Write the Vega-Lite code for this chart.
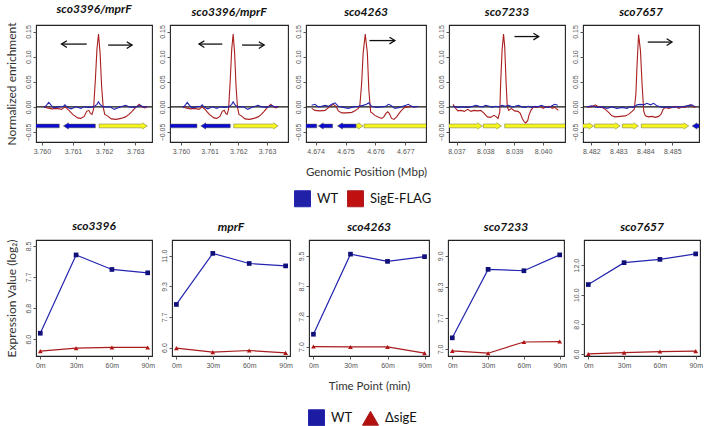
{
  "$schema": "https://vega.github.io/schema/vega-lite/v6.json",
  "padding": {"top": 2, "left": 4, "right": 0, "bottom": 0},
  "background": "white",
  "datasets": {
    "zero": [{"level": 0}],
    "chip": [
      {"locus":"sco3396/mprF","series":"SigE-FLAG","pos":3.76007,"enr":0.000},
      {"locus":"sco3396/mprF","series":"SigE-FLAG","pos":3.76017,"enr":-0.002},
      {"locus":"sco3396/mprF","series":"SigE-FLAG","pos":3.76033,"enr":-0.004},
      {"locus":"sco3396/mprF","series":"SigE-FLAG","pos":3.76048,"enr":-0.003},
      {"locus":"sco3396/mprF","series":"SigE-FLAG","pos":3.76063,"enr":-0.005},
      {"locus":"sco3396/mprF","series":"SigE-FLAG","pos":3.76074,"enr":0.000},
      {"locus":"sco3396/mprF","series":"SigE-FLAG","pos":3.76084,"enr":-0.005},
      {"locus":"sco3396/mprF","series":"SigE-FLAG","pos":3.76099,"enr":-0.015},
      {"locus":"sco3396/mprF","series":"SigE-FLAG","pos":3.76115,"enr":-0.022},
      {"locus":"sco3396/mprF","series":"SigE-FLAG","pos":3.76125,"enr":-0.023},
      {"locus":"sco3396/mprF","series":"SigE-FLAG","pos":3.76136,"enr":-0.019},
      {"locus":"sco3396/mprF","series":"SigE-FLAG","pos":3.76144,"enr":-0.009},
      {"locus":"sco3396/mprF","series":"SigE-FLAG","pos":3.76151,"enr":-0.007},
      {"locus":"sco3396/mprF","series":"SigE-FLAG","pos":3.76156,"enr":-0.013},
      {"locus":"sco3396/mprF","series":"SigE-FLAG","pos":3.76161,"enr":-0.015},
      {"locus":"sco3396/mprF","series":"SigE-FLAG","pos":3.76166,"enr":-0.005},
      {"locus":"sco3396/mprF","series":"SigE-FLAG","pos":3.76172,"enr":0.055},
      {"locus":"sco3396/mprF","series":"SigE-FLAG","pos":3.76177,"enr":0.115},
      {"locus":"sco3396/mprF","series":"SigE-FLAG","pos":3.76182,"enr":0.145},
      {"locus":"sco3396/mprF","series":"SigE-FLAG","pos":3.76187,"enr":0.108},
      {"locus":"sco3396/mprF","series":"SigE-FLAG","pos":3.76192,"enr":0.041},
      {"locus":"sco3396/mprF","series":"SigE-FLAG","pos":3.76197,"enr":0.000},
      {"locus":"sco3396/mprF","series":"SigE-FLAG","pos":3.76202,"enr":-0.015},
      {"locus":"sco3396/mprF","series":"SigE-FLAG","pos":3.76213,"enr":-0.019},
      {"locus":"sco3396/mprF","series":"SigE-FLAG","pos":3.76223,"enr":-0.024},
      {"locus":"sco3396/mprF","series":"SigE-FLAG","pos":3.76239,"enr":-0.025},
      {"locus":"sco3396/mprF","series":"SigE-FLAG","pos":3.76254,"enr":-0.023},
      {"locus":"sco3396/mprF","series":"SigE-FLAG","pos":3.76269,"enr":-0.020},
      {"locus":"sco3396/mprF","series":"SigE-FLAG","pos":3.76280,"enr":-0.015},
      {"locus":"sco3396/mprF","series":"SigE-FLAG","pos":3.76290,"enr":-0.009},
      {"locus":"sco3396/mprF","series":"SigE-FLAG","pos":3.76300,"enr":-0.002},
      {"locus":"sco3396/mprF","series":"SigE-FLAG","pos":3.76313,"enr":0.005},
      {"locus":"sco3396/mprF","series":"SigE-FLAG","pos":3.76321,"enr":0.000},
      {"locus":"sco3396/mprF","series":"SigE-FLAG","pos":3.76331,"enr":-0.002},
      {"locus":"sco3396/mprF","series":"SigE-FLAG","pos":3.76339,"enr":0.000},
      {"locus":"sco3396/mprF","series":"WT","pos":3.76007,"enr":-0.002},
      {"locus":"sco3396/mprF","series":"WT","pos":3.76017,"enr":0.005},
      {"locus":"sco3396/mprF","series":"WT","pos":3.76022,"enr":0.009},
      {"locus":"sco3396/mprF","series":"WT","pos":3.76030,"enr":0.003},
      {"locus":"sco3396/mprF","series":"WT","pos":3.76038,"enr":-0.002},
      {"locus":"sco3396/mprF","series":"WT","pos":3.76053,"enr":0.000},
      {"locus":"sco3396/mprF","series":"WT","pos":3.76069,"enr":0.001},
      {"locus":"sco3396/mprF","series":"WT","pos":3.76074,"enr":0.004},
      {"locus":"sco3396/mprF","series":"WT","pos":3.76082,"enr":-0.001},
      {"locus":"sco3396/mprF","series":"WT","pos":3.76094,"enr":-0.004},
      {"locus":"sco3396/mprF","series":"WT","pos":3.76110,"enr":0.000},
      {"locus":"sco3396/mprF","series":"WT","pos":3.76125,"enr":-0.003},
      {"locus":"sco3396/mprF","series":"WT","pos":3.76136,"enr":0.000},
      {"locus":"sco3396/mprF","series":"WT","pos":3.76151,"enr":-0.001},
      {"locus":"sco3396/mprF","series":"WT","pos":3.76166,"enr":0.000},
      {"locus":"sco3396/mprF","series":"WT","pos":3.76177,"enr":0.005},
      {"locus":"sco3396/mprF","series":"WT","pos":3.76182,"enr":0.010},
      {"locus":"sco3396/mprF","series":"WT","pos":3.76187,"enr":0.005},
      {"locus":"sco3396/mprF","series":"WT","pos":3.76197,"enr":0.000},
      {"locus":"sco3396/mprF","series":"WT","pos":3.76218,"enr":0.000},
      {"locus":"sco3396/mprF","series":"WT","pos":3.76233,"enr":-0.005},
      {"locus":"sco3396/mprF","series":"WT","pos":3.76244,"enr":-0.002},
      {"locus":"sco3396/mprF","series":"WT","pos":3.76259,"enr":0.001},
      {"locus":"sco3396/mprF","series":"WT","pos":3.76269,"enr":0.003},
      {"locus":"sco3396/mprF","series":"WT","pos":3.76280,"enr":0.000},
      {"locus":"sco3396/mprF","series":"WT","pos":3.76300,"enr":-0.001},
      {"locus":"sco3396/mprF","series":"WT","pos":3.76316,"enr":0.003},
      {"locus":"sco3396/mprF","series":"WT","pos":3.76326,"enr":0.000},
      {"locus":"sco3396/mprF","series":"WT","pos":3.76339,"enr":0.000},
      {"locus":"sco4263","series":"SigE-FLAG","pos":4.67387,"enr":-0.003},
      {"locus":"sco4263","series":"SigE-FLAG","pos":4.67398,"enr":-0.007},
      {"locus":"sco4263","series":"SigE-FLAG","pos":4.67415,"enr":-0.008},
      {"locus":"sco4263","series":"SigE-FLAG","pos":4.67432,"enr":-0.007},
      {"locus":"sco4263","series":"SigE-FLAG","pos":4.67448,"enr":0.001},
      {"locus":"sco4263","series":"SigE-FLAG","pos":4.67459,"enr":0.005},
      {"locus":"sco4263","series":"SigE-FLAG","pos":4.67468,"enr":0.001},
      {"locus":"sco4263","series":"SigE-FLAG","pos":4.67476,"enr":-0.008},
      {"locus":"sco4263","series":"SigE-FLAG","pos":4.67487,"enr":-0.012},
      {"locus":"sco4263","series":"SigE-FLAG","pos":4.67504,"enr":-0.012},
      {"locus":"sco4263","series":"SigE-FLAG","pos":4.67521,"enr":-0.011},
      {"locus":"sco4263","series":"SigE-FLAG","pos":4.67532,"enr":-0.008},
      {"locus":"sco4263","series":"SigE-FLAG","pos":4.67543,"enr":-0.003},
      {"locus":"sco4263","series":"SigE-FLAG","pos":4.67548,"enr":0.003},
      {"locus":"sco4263","series":"SigE-FLAG","pos":4.67554,"enr":0.047},
      {"locus":"sco4263","series":"SigE-FLAG","pos":4.67559,"enr":0.107},
      {"locus":"sco4263","series":"SigE-FLAG","pos":4.67566,"enr":0.145},
      {"locus":"sco4263","series":"SigE-FLAG","pos":4.67573,"enr":0.107},
      {"locus":"sco4263","series":"SigE-FLAG","pos":4.67578,"enr":0.033},
      {"locus":"sco4263","series":"SigE-FLAG","pos":4.67584,"enr":-0.010},
      {"locus":"sco4263","series":"SigE-FLAG","pos":4.67591,"enr":-0.013},
      {"locus":"sco4263","series":"SigE-FLAG","pos":4.67598,"enr":-0.017},
      {"locus":"sco4263","series":"SigE-FLAG","pos":4.67609,"enr":-0.020},
      {"locus":"sco4263","series":"SigE-FLAG","pos":4.67621,"enr":-0.023},
      {"locus":"sco4263","series":"SigE-FLAG","pos":4.67628,"enr":-0.020},
      {"locus":"sco4263","series":"SigE-FLAG","pos":4.67635,"enr":-0.013},
      {"locus":"sco4263","series":"SigE-FLAG","pos":4.67641,"enr":-0.010},
      {"locus":"sco4263","series":"SigE-FLAG","pos":4.67646,"enr":-0.013},
      {"locus":"sco4263","series":"SigE-FLAG","pos":4.67654,"enr":-0.023},
      {"locus":"sco4263","series":"SigE-FLAG","pos":4.67662,"enr":-0.025},
      {"locus":"sco4263","series":"SigE-FLAG","pos":4.67671,"enr":-0.020},
      {"locus":"sco4263","series":"SigE-FLAG","pos":4.67679,"enr":-0.013},
      {"locus":"sco4263","series":"SigE-FLAG","pos":4.67687,"enr":-0.007},
      {"locus":"sco4263","series":"SigE-FLAG","pos":4.67698,"enr":-0.001},
      {"locus":"sco4263","series":"SigE-FLAG","pos":4.67709,"enr":0.000},
      {"locus":"sco4263","series":"SigE-FLAG","pos":4.67721,"enr":0.001},
      {"locus":"sco4263","series":"SigE-FLAG","pos":4.67732,"enr":-0.001},
      {"locus":"sco4263","series":"WT","pos":4.67387,"enr":0.003},
      {"locus":"sco4263","series":"WT","pos":4.67398,"enr":0.005},
      {"locus":"sco4263","series":"WT","pos":4.67409,"enr":0.000},
      {"locus":"sco4263","series":"WT","pos":4.67420,"enr":0.001},
      {"locus":"sco4263","series":"WT","pos":4.67432,"enr":0.003},
      {"locus":"sco4263","series":"WT","pos":4.67443,"enr":0.001},
      {"locus":"sco4263","series":"WT","pos":4.67454,"enr":0.005},
      {"locus":"sco4263","series":"WT","pos":4.67465,"enr":0.008},
      {"locus":"sco4263","series":"WT","pos":4.67476,"enr":0.001},
      {"locus":"sco4263","series":"WT","pos":4.67493,"enr":-0.001},
      {"locus":"sco4263","series":"WT","pos":4.67509,"enr":-0.003},
      {"locus":"sco4263","series":"WT","pos":4.67526,"enr":0.000},
      {"locus":"sco4263","series":"WT","pos":4.67543,"enr":0.001},
      {"locus":"sco4263","series":"WT","pos":4.67559,"enr":0.003},
      {"locus":"sco4263","series":"WT","pos":4.67570,"enr":0.005},
      {"locus":"sco4263","series":"WT","pos":4.67578,"enr":0.008},
      {"locus":"sco4263","series":"WT","pos":4.67587,"enr":0.001},
      {"locus":"sco4263","series":"WT","pos":4.67604,"enr":-0.001},
      {"locus":"sco4263","series":"WT","pos":4.67621,"enr":0.000},
      {"locus":"sco4263","series":"WT","pos":4.67635,"enr":0.001},
      {"locus":"sco4263","series":"WT","pos":4.67643,"enr":0.005},
      {"locus":"sco4263","series":"WT","pos":4.67651,"enr":0.003},
      {"locus":"sco4263","series":"WT","pos":4.67665,"enr":-0.003},
      {"locus":"sco4263","series":"WT","pos":4.67682,"enr":-0.001},
      {"locus":"sco4263","series":"WT","pos":4.67702,"enr":0.003},
      {"locus":"sco4263","series":"WT","pos":4.67710,"enr":0.005},
      {"locus":"sco4263","series":"WT","pos":4.67721,"enr":0.001},
      {"locus":"sco4263","series":"WT","pos":4.67732,"enr":0.000},
      {"locus":"sco4263","series":"WT","pos":4.67743,"enr":0.001},
      {"locus":"sco7233","series":"SigE-FLAG","pos":8.03688,"enr":0.005},
      {"locus":"sco7233","series":"SigE-FLAG","pos":8.03697,"enr":-0.003},
      {"locus":"sco7233","series":"SigE-FLAG","pos":8.03705,"enr":-0.008},
      {"locus":"sco7233","series":"SigE-FLAG","pos":8.03716,"enr":-0.007},
      {"locus":"sco7233","series":"SigE-FLAG","pos":8.03727,"enr":-0.009},
      {"locus":"sco7233","series":"SigE-FLAG","pos":8.03739,"enr":-0.005},
      {"locus":"sco7233","series":"SigE-FLAG","pos":8.03750,"enr":-0.009},
      {"locus":"sco7233","series":"SigE-FLAG","pos":8.03761,"enr":-0.007},
      {"locus":"sco7233","series":"SigE-FLAG","pos":8.03773,"enr":-0.008},
      {"locus":"sco7233","series":"SigE-FLAG","pos":8.03784,"enr":-0.007},
      {"locus":"sco7233","series":"SigE-FLAG","pos":8.03796,"enr":-0.013},
      {"locus":"sco7233","series":"SigE-FLAG","pos":8.03807,"enr":-0.020},
      {"locus":"sco7233","series":"SigE-FLAG","pos":8.03818,"enr":-0.021},
      {"locus":"sco7233","series":"SigE-FLAG","pos":8.03830,"enr":-0.017},
      {"locus":"sco7233","series":"SigE-FLAG","pos":8.03838,"enr":-0.020},
      {"locus":"sco7233","series":"SigE-FLAG","pos":8.03844,"enr":-0.023},
      {"locus":"sco7233","series":"SigE-FLAG","pos":8.03850,"enr":-0.010},
      {"locus":"sco7233","series":"SigE-FLAG","pos":8.03853,"enr":0.047},
      {"locus":"sco7233","series":"SigE-FLAG","pos":8.03858,"enr":0.113},
      {"locus":"sco7233","series":"SigE-FLAG","pos":8.03863,"enr":0.145},
      {"locus":"sco7233","series":"SigE-FLAG","pos":8.03867,"enr":0.120},
      {"locus":"sco7233","series":"SigE-FLAG","pos":8.03872,"enr":0.047},
      {"locus":"sco7233","series":"SigE-FLAG","pos":8.03876,"enr":0.000},
      {"locus":"sco7233","series":"SigE-FLAG","pos":8.03881,"enr":-0.007},
      {"locus":"sco7233","series":"SigE-FLAG","pos":8.03890,"enr":-0.003},
      {"locus":"sco7233","series":"SigE-FLAG","pos":8.03901,"enr":-0.008},
      {"locus":"sco7233","series":"SigE-FLAG","pos":8.03913,"enr":-0.009},
      {"locus":"sco7233","series":"SigE-FLAG","pos":8.03921,"enr":-0.013},
      {"locus":"sco7233","series":"SigE-FLAG","pos":8.03928,"enr":-0.023},
      {"locus":"sco7233","series":"SigE-FLAG","pos":8.03935,"enr":-0.030},
      {"locus":"sco7233","series":"SigE-FLAG","pos":8.03940,"enr":-0.032},
      {"locus":"sco7233","series":"SigE-FLAG","pos":8.03947,"enr":-0.027},
      {"locus":"sco7233","series":"SigE-FLAG","pos":8.03951,"enr":-0.017},
      {"locus":"sco7233","series":"SigE-FLAG","pos":8.03958,"enr":-0.007},
      {"locus":"sco7233","series":"SigE-FLAG","pos":8.03966,"enr":0.000},
      {"locus":"sco7233","series":"SigE-FLAG","pos":8.03977,"enr":-0.001},
      {"locus":"sco7233","series":"SigE-FLAG","pos":8.03989,"enr":0.001},
      {"locus":"sco7233","series":"SigE-FLAG","pos":8.04000,"enr":-0.003},
      {"locus":"sco7233","series":"SigE-FLAG","pos":8.04011,"enr":0.000},
      {"locus":"sco7233","series":"SigE-FLAG","pos":8.04023,"enr":0.001},
      {"locus":"sco7233","series":"SigE-FLAG","pos":8.04032,"enr":-0.003},
      {"locus":"sco7233","series":"SigE-FLAG","pos":8.04040,"enr":-0.001},
      {"locus":"sco7233","series":"SigE-FLAG","pos":8.04049,"enr":-0.005},
      {"locus":"sco7233","series":"SigE-FLAG","pos":8.04053,"enr":-0.007},
      {"locus":"sco7233","series":"WT","pos":8.03688,"enr":0.001},
      {"locus":"sco7233","series":"WT","pos":8.03705,"enr":-0.001},
      {"locus":"sco7233","series":"WT","pos":8.03722,"enr":0.000},
      {"locus":"sco7233","series":"WT","pos":8.03739,"enr":-0.001},
      {"locus":"sco7233","series":"WT","pos":8.03756,"enr":0.001},
      {"locus":"sco7233","series":"WT","pos":8.03767,"enr":0.003},
      {"locus":"sco7233","series":"WT","pos":8.03779,"enr":0.001},
      {"locus":"sco7233","series":"WT","pos":8.03790,"enr":0.000},
      {"locus":"sco7233","series":"WT","pos":8.03801,"enr":0.003},
      {"locus":"sco7233","series":"WT","pos":8.03813,"enr":0.001},
      {"locus":"sco7233","series":"WT","pos":8.03824,"enr":-0.001},
      {"locus":"sco7233","series":"WT","pos":8.03835,"enr":0.001},
      {"locus":"sco7233","series":"WT","pos":8.03847,"enr":0.000},
      {"locus":"sco7233","series":"WT","pos":8.03858,"enr":0.003},
      {"locus":"sco7233","series":"WT","pos":8.03869,"enr":0.001},
      {"locus":"sco7233","series":"WT","pos":8.03881,"enr":0.003},
      {"locus":"sco7233","series":"WT","pos":8.03892,"enr":0.000},
      {"locus":"sco7233","series":"WT","pos":8.03903,"enr":0.001},
      {"locus":"sco7233","series":"WT","pos":8.03915,"enr":0.003},
      {"locus":"sco7233","series":"WT","pos":8.03926,"enr":0.000},
      {"locus":"sco7233","series":"WT","pos":8.03938,"enr":-0.001},
      {"locus":"sco7233","series":"WT","pos":8.03949,"enr":0.001},
      {"locus":"sco7233","series":"WT","pos":8.03960,"enr":-0.001},
      {"locus":"sco7233","series":"WT","pos":8.03972,"enr":0.001},
      {"locus":"sco7233","series":"WT","pos":8.03983,"enr":0.000},
      {"locus":"sco7233","series":"WT","pos":8.03994,"enr":0.003},
      {"locus":"sco7233","series":"WT","pos":8.04006,"enr":0.000},
      {"locus":"sco7233","series":"WT","pos":8.04017,"enr":-0.001},
      {"locus":"sco7233","series":"WT","pos":8.04028,"enr":0.001},
      {"locus":"sco7233","series":"WT","pos":8.04040,"enr":0.005},
      {"locus":"sco7233","series":"WT","pos":8.04051,"enr":0.003},
      {"locus":"sco7657","series":"SigE-FLAG","pos":8.48184,"enr":0.000},
      {"locus":"sco7657","series":"SigE-FLAG","pos":8.48202,"enr":0.000},
      {"locus":"sco7657","series":"SigE-FLAG","pos":8.48215,"enr":0.004},
      {"locus":"sco7657","series":"SigE-FLAG","pos":8.48227,"enr":0.000},
      {"locus":"sco7657","series":"SigE-FLAG","pos":8.48239,"enr":-0.001},
      {"locus":"sco7657","series":"SigE-FLAG","pos":8.48252,"enr":-0.005},
      {"locus":"sco7657","series":"SigE-FLAG","pos":8.48264,"enr":-0.011},
      {"locus":"sco7657","series":"SigE-FLAG","pos":8.48276,"enr":-0.018},
      {"locus":"sco7657","series":"SigE-FLAG","pos":8.48289,"enr":-0.020},
      {"locus":"sco7657","series":"SigE-FLAG","pos":8.48307,"enr":-0.019},
      {"locus":"sco7657","series":"SigE-FLAG","pos":8.48326,"enr":-0.018},
      {"locus":"sco7657","series":"SigE-FLAG","pos":8.48338,"enr":-0.015},
      {"locus":"sco7657","series":"SigE-FLAG","pos":8.48351,"enr":-0.009},
      {"locus":"sco7657","series":"SigE-FLAG","pos":8.48359,"enr":-0.005},
      {"locus":"sco7657","series":"SigE-FLAG","pos":8.48365,"enr":0.025},
      {"locus":"sco7657","series":"SigE-FLAG","pos":8.48369,"enr":0.079},
      {"locus":"sco7657","series":"SigE-FLAG","pos":8.48375,"enr":0.144},
      {"locus":"sco7657","series":"SigE-FLAG","pos":8.48382,"enr":0.112},
      {"locus":"sco7657","series":"SigE-FLAG","pos":8.48388,"enr":0.045},
      {"locus":"sco7657","series":"SigE-FLAG","pos":8.48394,"enr":-0.008},
      {"locus":"sco7657","series":"SigE-FLAG","pos":8.48400,"enr":-0.018},
      {"locus":"sco7657","series":"SigE-FLAG","pos":8.48412,"enr":-0.020},
      {"locus":"sco7657","series":"SigE-FLAG","pos":8.48425,"enr":-0.019},
      {"locus":"sco7657","series":"SigE-FLAG","pos":8.48437,"enr":-0.021},
      {"locus":"sco7657","series":"SigE-FLAG","pos":8.48449,"enr":-0.019},
      {"locus":"sco7657","series":"SigE-FLAG","pos":8.48458,"enr":-0.015},
      {"locus":"sco7657","series":"SigE-FLAG","pos":8.48466,"enr":-0.005},
      {"locus":"sco7657","series":"SigE-FLAG","pos":8.48474,"enr":-0.001},
      {"locus":"sco7657","series":"SigE-FLAG","pos":8.48487,"enr":-0.003},
      {"locus":"sco7657","series":"SigE-FLAG","pos":8.48499,"enr":-0.001},
      {"locus":"sco7657","series":"SigE-FLAG","pos":8.48511,"enr":0.001},
      {"locus":"sco7657","series":"SigE-FLAG","pos":8.48524,"enr":-0.003},
      {"locus":"sco7657","series":"SigE-FLAG","pos":8.48536,"enr":0.000},
      {"locus":"sco7657","series":"SigE-FLAG","pos":8.48548,"enr":-0.001},
      {"locus":"sco7657","series":"SigE-FLAG","pos":8.48557,"enr":0.002},
      {"locus":"sco7657","series":"SigE-FLAG","pos":8.48567,"enr":0.004},
      {"locus":"sco7657","series":"SigE-FLAG","pos":8.48577,"enr":0.000},
      {"locus":"sco7657","series":"SigE-FLAG","pos":8.48585,"enr":-0.001},
      {"locus":"sco7657","series":"WT","pos":8.48184,"enr":0.000},
      {"locus":"sco7657","series":"WT","pos":8.48202,"enr":0.002},
      {"locus":"sco7657","series":"WT","pos":8.48221,"enr":-0.001},
      {"locus":"sco7657","series":"WT","pos":8.48239,"enr":0.000},
      {"locus":"sco7657","series":"WT","pos":8.48258,"enr":-0.003},
      {"locus":"sco7657","series":"WT","pos":8.48276,"enr":0.000},
      {"locus":"sco7657","series":"WT","pos":8.48295,"enr":-0.003},
      {"locus":"sco7657","series":"WT","pos":8.48314,"enr":-0.001},
      {"locus":"sco7657","series":"WT","pos":8.48332,"enr":-0.003},
      {"locus":"sco7657","series":"WT","pos":8.48344,"enr":0.000},
      {"locus":"sco7657","series":"WT","pos":8.48357,"enr":-0.001},
      {"locus":"sco7657","series":"WT","pos":8.48369,"enr":0.004},
      {"locus":"sco7657","series":"WT","pos":8.48382,"enr":0.005},
      {"locus":"sco7657","series":"WT","pos":8.48394,"enr":0.004},
      {"locus":"sco7657","series":"WT","pos":8.48406,"enr":0.007},
      {"locus":"sco7657","series":"WT","pos":8.48419,"enr":0.004},
      {"locus":"sco7657","series":"WT","pos":8.48431,"enr":0.007},
      {"locus":"sco7657","series":"WT","pos":8.48443,"enr":0.002},
      {"locus":"sco7657","series":"WT","pos":8.48456,"enr":0.000},
      {"locus":"sco7657","series":"WT","pos":8.48468,"enr":-0.001},
      {"locus":"sco7657","series":"WT","pos":8.48480,"enr":0.000},
      {"locus":"sco7657","series":"WT","pos":8.48499,"enr":-0.001},
      {"locus":"sco7657","series":"WT","pos":8.48517,"enr":0.000},
      {"locus":"sco7657","series":"WT","pos":8.48536,"enr":0.000},
      {"locus":"sco7657","series":"WT","pos":8.48555,"enr":0.002},
      {"locus":"sco7657","series":"WT","pos":8.48573,"enr":0.004},
      {"locus":"sco7657","series":"WT","pos":8.48585,"enr":0.000}
    ],
    "genes": [
      {"locus":"sco3396/mprF","from":3.7594,"to":3.76056,"dir":"left","tip":null},
      {"locus":"sco3396/mprF","from":3.76081,"to":3.76172,"dir":"left","tip":3.76069},
      {"locus":"sco3396/mprF","from":3.76184,"to":3.76327,"dir":"right","tip":3.76339},
      {"locus":"sco4263","from":4.6736,"to":4.67404,"dir":"left","tip":null},
      {"locus":"sco4263","from":4.67421,"to":4.67457,"dir":"left","tip":4.67409},
      {"locus":"sco4263","from":4.67485,"to":4.67535,"dir":"left","tip":4.67473},
      {"locus":"sco4263","from":4.67537,"to":4.67547,"dir":"right","tip":4.67559},
      {"locus":"sco4263","from":4.67562,"to":4.6778,"dir":"right","tip":null},
      {"locus":"sco7233","from":8.0366,"to":8.03778,"dir":"right","tip":8.0379},
      {"locus":"sco7233","from":8.03793,"to":8.03844,"dir":"right","tip":8.03856},
      {"locus":"sco7233","from":8.03867,"to":8.0408,"dir":"right","tip":null},
      {"locus":"sco7657","from":8.4816,"to":8.48195,"dir":"right","tip":8.48209},
      {"locus":"sco7657","from":8.48212,"to":8.48293,"dir":"right","tip":8.48307},
      {"locus":"sco7657","from":8.48315,"to":8.48361,"dir":"right","tip":8.48375},
      {"locus":"sco7657","from":8.48385,"to":8.48547,"dir":"right","tip":8.48561},
      {"locus":"sco7657","from":8.48587,"to":8.48605,"dir":"left","tip":8.48573}
    ],
    "arrows": [
      {"locus":"sco3396/mprF","from":3.76144,"to":3.76063,"level":0.125,"dir":"left"},
      {"locus":"sco3396/mprF","from":3.76213,"to":3.7629,"level":0.123,"dir":"right"},
      {"locus":"sco4263","from":4.6758,"to":4.67665,"level":0.132,"dir":"right"},
      {"locus":"sco7233","from":8.03901,"to":8.03985,"level":0.14,"dir":"right"},
      {"locus":"sco7657","from":8.48409,"to":8.48499,"level":0.129,"dir":"right"}
    ],
    "expr": [
      {"gene":"sco3396","strain":"WT","time":"0m","value":6.16},
      {"gene":"sco3396","strain":"WT","time":"30m","value":8.26},
      {"gene":"sco3396","strain":"WT","time":"60m","value":7.87},
      {"gene":"sco3396","strain":"WT","time":"90m","value":7.78},
      {"gene":"sco3396","strain":"ΔsigE","time":"0m","value":5.68},
      {"gene":"sco3396","strain":"ΔsigE","time":"30m","value":5.76},
      {"gene":"sco3396","strain":"ΔsigE","time":"60m","value":5.78},
      {"gene":"sco3396","strain":"ΔsigE","time":"90m","value":5.78},
      {"gene":"mprF","strain":"WT","time":"0m","value":8.35},
      {"gene":"mprF","strain":"WT","time":"30m","value":11.13},
      {"gene":"mprF","strain":"WT","time":"60m","value":10.58},
      {"gene":"mprF","strain":"WT","time":"90m","value":10.45},
      {"gene":"mprF","strain":"ΔsigE","time":"0m","value":5.97},
      {"gene":"mprF","strain":"ΔsigE","time":"30m","value":5.75},
      {"gene":"mprF","strain":"ΔsigE","time":"60m","value":5.84},
      {"gene":"mprF","strain":"ΔsigE","time":"90m","value":5.71},
      {"gene":"sco4263","strain":"WT","time":"0m","value":7.34},
      {"gene":"sco4263","strain":"WT","time":"30m","value":9.55},
      {"gene":"sco4263","strain":"WT","time":"60m","value":9.35},
      {"gene":"sco4263","strain":"WT","time":"90m","value":9.48},
      {"gene":"sco4263","strain":"ΔsigE","time":"0m","value":7.0},
      {"gene":"sco4263","strain":"ΔsigE","time":"30m","value":6.99},
      {"gene":"sco4263","strain":"ΔsigE","time":"60m","value":6.99},
      {"gene":"sco4263","strain":"ΔsigE","time":"90m","value":6.82},
      {"gene":"sco7233","strain":"WT","time":"0m","value":7.24},
      {"gene":"sco7233","strain":"WT","time":"30m","value":8.71},
      {"gene":"sco7233","strain":"WT","time":"60m","value":8.68},
      {"gene":"sco7233","strain":"WT","time":"90m","value":9.02},
      {"gene":"sco7233","strain":"ΔsigE","time":"0m","value":6.96},
      {"gene":"sco7233","strain":"ΔsigE","time":"30m","value":6.91},
      {"gene":"sco7233","strain":"ΔsigE","time":"60m","value":7.15},
      {"gene":"sco7233","strain":"ΔsigE","time":"90m","value":7.16},
      {"gene":"sco7657","strain":"WT","time":"0m","value":10.69},
      {"gene":"sco7657","strain":"WT","time":"30m","value":12.17},
      {"gene":"sco7657","strain":"WT","time":"60m","value":12.39},
      {"gene":"sco7657","strain":"WT","time":"90m","value":12.76},
      {"gene":"sco7657","strain":"ΔsigE","time":"0m","value":6.0},
      {"gene":"sco7657","strain":"ΔsigE","time":"30m","value":6.09},
      {"gene":"sco7657","strain":"ΔsigE","time":"60m","value":6.16},
      {"gene":"sco7657","strain":"ΔsigE","time":"90m","value":6.19}
    ]
  },
  "spacing": 9,
  "vconcat": [
    {
      "spacing": 3,
      "resolve": {"scale": {"color": "independent", "shape": "independent", "fill": "independent", "stroke": "independent"}},
      "hconcat": [
        {
          "width": 116, "height": 117, "title": "sco3396/mprF",
          "layer": [
            {"data": {"name": "zero"}, "mark": {"type": "rule", "color": "#111", "strokeWidth": 1.2}, "encoding": {"y": {"field": "level", "type": "quantitative", "scale": {"domain": [-0.07, 0.163], "nice": false, "zero": false}, "axis": {"values": [-0.05, 0, 0.05, 0.1, 0.15], "format": ".2f", "title": "Normalized enrichment"}}}},
            {"data": {"name": "genes"}, "transform": [{"filter": "datum.locus === 'sco3396/mprF'"}], "mark": {"type": "rect", "clip": true, "stroke": "#6b6b3a", "strokeWidth": 0.5}, "encoding": {"x": {"field": "from", "type": "quantitative", "scale": {"domain": [3.75981, 3.76354], "nice": false, "zero": false}, "axis": {"values": [3.760, 3.761, 3.762, 3.763], "format": ".3f", "title": null}}, "x2": {"field": "to"}, "y": {"datum": -0.0342, "scale": {"domain": [-0.07, 0.163], "nice": false, "zero": false}, "axis": {"values": [-0.05, 0, 0.05, 0.1, 0.15], "format": ".2f", "title": "Normalized enrichment"}}, "y2": {"datum": -0.0418}, "fill": {"field": "dir", "type": "nominal", "scale": {"domain": ["left", "right"], "range": ["#0a0ad2", "#f7f71e"]}, "legend": null}}},
            {"data": {"name": "genes"}, "transform": [{"filter": "datum.locus === 'sco3396/mprF'"}], "mark": {"type": "point", "filled": true, "size": 42, "stroke": "#6b6b3a", "strokeWidth": 0.5, "opacity": 1, "clip": true}, "encoding": {"x": {"field": "tip", "type": "quantitative", "scale": {"domain": [3.75981, 3.76354], "nice": false, "zero": false}, "axis": {"values": [3.760, 3.761, 3.762, 3.763], "format": ".3f", "title": null}}, "y": {"datum": -0.038, "scale": {"domain": [-0.07, 0.163], "nice": false, "zero": false}, "axis": {"values": [-0.05, 0, 0.05, 0.1, 0.15], "format": ".2f", "title": "Normalized enrichment"}}, "shape": {"field": "dir", "type": "nominal", "scale": {"domain": ["left", "right"], "range": ["M1.6,-1L0,0L1.6,1", "M-1.6,-1L0,0L-1.6,1"]}, "legend": null}, "fill": {"field": "dir", "type": "nominal", "legend": null}}},
            {"data": {"name": "chip"}, "transform": [{"filter": "datum.locus === 'sco3396/mprF'"}], "mark": {"type": "line", "strokeWidth": 1.1, "clip": true}, "encoding": {
              "x": {"field": "pos", "type": "quantitative", "scale": {"domain": [3.75981, 3.76354], "nice": false, "zero": false}, "axis": {"values": [3.760, 3.761, 3.762, 3.763], "format": ".3f", "title": null}},
              "y": {"field": "enr", "type": "quantitative", "scale": {"domain": [-0.07, 0.163], "nice": false, "zero": false}, "axis": {"values": [-0.05, 0, 0.05, 0.1, 0.15], "format": ".2f", "title": "Normalized enrichment"}},
              "stroke": {"field": "series", "type": "nominal", "scale": {"domain": ["WT", "SigE-FLAG"], "range": ["#2424b0", "#ab1f1f"]}, "legend": null}}},
            {"data": {"name": "arrows"}, "transform": [{"filter": "datum.locus === 'sco3396/mprF'"}], "mark": {"type": "rule", "color": "#111", "strokeWidth": 1.3}, "encoding": {"x": {"field": "from", "type": "quantitative", "scale": {"domain": [3.75981, 3.76354], "nice": false, "zero": false}, "axis": {"values": [3.760, 3.761, 3.762, 3.763], "format": ".3f", "title": null}}, "x2": {"field": "to"}, "y": {"field": "level", "type": "quantitative", "scale": {"domain": [-0.07, 0.163], "nice": false, "zero": false}, "axis": {"values": [-0.05, 0, 0.05, 0.1, 0.15], "format": ".2f", "title": "Normalized enrichment"}}}},
            {"data": {"name": "arrows"}, "transform": [{"filter": "datum.locus === 'sco3396/mprF'"}], "mark": {"type": "point", "filled": false, "stroke": "#111", "strokeWidth": 1.3, "size": 45, "opacity": 1}, "encoding": {"x": {"field": "to", "type": "quantitative", "scale": {"domain": [3.75981, 3.76354], "nice": false, "zero": false}, "axis": {"values": [3.760, 3.761, 3.762, 3.763], "format": ".3f", "title": null}}, "y": {"field": "level", "type": "quantitative", "scale": {"domain": [-0.07, 0.163], "nice": false, "zero": false}, "axis": {"values": [-0.05, 0, 0.05, 0.1, 0.15], "format": ".2f", "title": "Normalized enrichment"}}, "shape": {"field": "dir", "type": "nominal", "legend": null}}}
          ]
        },
        {
          "width": 118, "height": 117, "title": "sco3396/mprF",
          "layer": [
            {"data": {"name": "zero"}, "mark": {"type": "rule", "color": "#111", "strokeWidth": 1.2}, "encoding": {"y": {"field": "level", "type": "quantitative", "scale": {"domain": [-0.07, 0.163], "nice": false, "zero": false}, "axis": {"values": [-0.05, 0, 0.05, 0.1, 0.15], "format": ".2f", "title": null}}}},
            {"data": {"name": "genes"}, "transform": [{"filter": "datum.locus === 'sco3396/mprF'"}], "mark": {"type": "rect", "clip": true, "stroke": "#6b6b3a", "strokeWidth": 0.5}, "encoding": {"x": {"field": "from", "type": "quantitative", "scale": {"domain": [3.75962, 3.76373], "nice": false, "zero": false}, "axis": {"values": [3.760, 3.761, 3.762, 3.763], "format": ".3f", "title": null}}, "x2": {"field": "to"}, "y": {"datum": -0.0342, "scale": {"domain": [-0.07, 0.163], "nice": false, "zero": false}, "axis": {"values": [-0.05, 0, 0.05, 0.1, 0.15], "format": ".2f", "title": null}}, "y2": {"datum": -0.0418}, "fill": {"field": "dir", "type": "nominal", "scale": {"domain": ["left", "right"], "range": ["#0a0ad2", "#f7f71e"]}, "legend": null}}},
            {"data": {"name": "genes"}, "transform": [{"filter": "datum.locus === 'sco3396/mprF'"}], "mark": {"type": "point", "filled": true, "size": 42, "stroke": "#6b6b3a", "strokeWidth": 0.5, "opacity": 1, "clip": true}, "encoding": {"x": {"field": "tip", "type": "quantitative", "scale": {"domain": [3.75962, 3.76373], "nice": false, "zero": false}, "axis": {"values": [3.760, 3.761, 3.762, 3.763], "format": ".3f", "title": null}}, "y": {"datum": -0.038, "scale": {"domain": [-0.07, 0.163], "nice": false, "zero": false}, "axis": {"values": [-0.05, 0, 0.05, 0.1, 0.15], "format": ".2f", "title": null}}, "shape": {"field": "dir", "type": "nominal", "scale": {"domain": ["left", "right"], "range": ["M1.6,-1L0,0L1.6,1", "M-1.6,-1L0,0L-1.6,1"]}, "legend": null}, "fill": {"field": "dir", "type": "nominal", "legend": null}}},
            {"data": {"name": "chip"}, "transform": [{"filter": "datum.locus === 'sco3396/mprF'"}], "mark": {"type": "line", "strokeWidth": 1.1, "clip": true}, "encoding": {
              "x": {"field": "pos", "type": "quantitative", "scale": {"domain": [3.75962, 3.76373], "nice": false, "zero": false}, "axis": {"values": [3.760, 3.761, 3.762, 3.763], "format": ".3f", "title": null}},
              "y": {"field": "enr", "type": "quantitative", "scale": {"domain": [-0.07, 0.163], "nice": false, "zero": false}, "axis": {"values": [-0.05, 0, 0.05, 0.1, 0.15], "format": ".2f", "title": null}},
              "stroke": {"field": "series", "type": "nominal", "scale": {"domain": ["WT", "SigE-FLAG"], "range": ["#2424b0", "#ab1f1f"]}, "legend": null}}},
            {"data": {"name": "arrows"}, "transform": [{"filter": "datum.locus === 'sco3396/mprF'"}], "mark": {"type": "rule", "color": "#111", "strokeWidth": 1.3}, "encoding": {"x": {"field": "from", "type": "quantitative", "scale": {"domain": [3.75962, 3.76373], "nice": false, "zero": false}, "axis": {"values": [3.760, 3.761, 3.762, 3.763], "format": ".3f", "title": null}}, "x2": {"field": "to"}, "y": {"field": "level", "type": "quantitative", "scale": {"domain": [-0.07, 0.163], "nice": false, "zero": false}, "axis": {"values": [-0.05, 0, 0.05, 0.1, 0.15], "format": ".2f", "title": null}}}},
            {"data": {"name": "arrows"}, "transform": [{"filter": "datum.locus === 'sco3396/mprF'"}], "mark": {"type": "point", "filled": false, "stroke": "#111", "strokeWidth": 1.3, "size": 45, "opacity": 1}, "encoding": {"x": {"field": "to", "type": "quantitative", "scale": {"domain": [3.75962, 3.76373], "nice": false, "zero": false}, "axis": {"values": [3.760, 3.761, 3.762, 3.763], "format": ".3f", "title": null}}, "y": {"field": "level", "type": "quantitative", "scale": {"domain": [-0.07, 0.163], "nice": false, "zero": false}, "axis": {"values": [-0.05, 0, 0.05, 0.1, 0.15], "format": ".2f", "title": null}}, "shape": {"field": "dir", "type": "nominal", "legend": null}}}
          ]
        },
        {
          "width": 120, "height": 117, "title": "sco4263",
          "layer": [
            {"data": {"name": "chip"}, "transform": [{"filter": "datum.locus === 'sco4263'"}], "mark": {"type": "point", "shape": "square", "filled": true, "size": 0, "opacity": 1}, "encoding": {
              "x": {"field": "pos", "type": "quantitative", "scale": {"domain": [4.67368, 4.67769], "nice": false, "zero": false}, "axis": {"values": [4.674, 4.675, 4.676, 4.677], "format": ".3f", "title": "Genomic Position (Mbp)", "titlePadding": 12}},
              "y": {"field": "enr", "type": "quantitative", "scale": {"domain": [-0.07, 0.163], "nice": false, "zero": false}, "axis": {"values": [-0.05, 0, 0.05, 0.1, 0.15], "format": ".2f", "title": null}},
              "color": {"field": "series", "type": "nominal", "scale": {"domain": ["WT", "SigE-FLAG"], "range": ["#2020a8", "#c01010"]}, "legend": {"orient": "none", "legendX": -12, "legendY": 165, "direction": "horizontal", "columns": 2, "title": null, "symbolType": "square", "symbolSize": 256, "symbolStrokeColor": "#333", "symbolStrokeWidth": 1, "labelFont": "Lato", "labelFontSize": 13, "labelColor": "#111", "labelOffset": 6, "columnPadding": 6, "padding": 0}}}},
            {"data": {"name": "zero"}, "mark": {"type": "rule", "color": "#111", "strokeWidth": 1.2}, "encoding": {"y": {"field": "level", "type": "quantitative", "scale": {"domain": [-0.07, 0.163], "nice": false, "zero": false}, "axis": {"values": [-0.05, 0, 0.05, 0.1, 0.15], "format": ".2f", "title": null}}}},
            {"data": {"name": "genes"}, "transform": [{"filter": "datum.locus === 'sco4263'"}], "mark": {"type": "rect", "clip": true, "stroke": "#6b6b3a", "strokeWidth": 0.5}, "encoding": {"x": {"field": "from", "type": "quantitative", "scale": {"domain": [4.67368, 4.67769], "nice": false, "zero": false}, "axis": {"values": [4.674, 4.675, 4.676, 4.677], "format": ".3f", "title": "Genomic Position (Mbp)", "titlePadding": 12}}, "x2": {"field": "to"}, "y": {"datum": -0.0342, "scale": {"domain": [-0.07, 0.163], "nice": false, "zero": false}, "axis": {"values": [-0.05, 0, 0.05, 0.1, 0.15], "format": ".2f", "title": null}}, "y2": {"datum": -0.0418}, "fill": {"field": "dir", "type": "nominal", "scale": {"domain": ["left", "right"], "range": ["#0a0ad2", "#f7f71e"]}, "legend": null}}},
            {"data": {"name": "genes"}, "transform": [{"filter": "datum.locus === 'sco4263'"}], "mark": {"type": "point", "filled": true, "size": 42, "stroke": "#6b6b3a", "strokeWidth": 0.5, "opacity": 1, "clip": true}, "encoding": {"x": {"field": "tip", "type": "quantitative", "scale": {"domain": [4.67368, 4.67769], "nice": false, "zero": false}, "axis": {"values": [4.674, 4.675, 4.676, 4.677], "format": ".3f", "title": "Genomic Position (Mbp)", "titlePadding": 12}}, "y": {"datum": -0.038, "scale": {"domain": [-0.07, 0.163], "nice": false, "zero": false}, "axis": {"values": [-0.05, 0, 0.05, 0.1, 0.15], "format": ".2f", "title": null}}, "shape": {"field": "dir", "type": "nominal", "scale": {"domain": ["left", "right"], "range": ["M1.6,-1L0,0L1.6,1", "M-1.6,-1L0,0L-1.6,1"]}, "legend": null}, "fill": {"field": "dir", "type": "nominal", "legend": null}}},
            {"data": {"name": "chip"}, "transform": [{"filter": "datum.locus === 'sco4263'"}], "mark": {"type": "line", "strokeWidth": 1.1, "clip": true}, "encoding": {
              "x": {"field": "pos", "type": "quantitative", "scale": {"domain": [4.67368, 4.67769], "nice": false, "zero": false}, "axis": {"values": [4.674, 4.675, 4.676, 4.677], "format": ".3f", "title": "Genomic Position (Mbp)", "titlePadding": 12}},
              "y": {"field": "enr", "type": "quantitative", "scale": {"domain": [-0.07, 0.163], "nice": false, "zero": false}, "axis": {"values": [-0.05, 0, 0.05, 0.1, 0.15], "format": ".2f", "title": null}},
              "stroke": {"field": "series", "type": "nominal", "scale": {"domain": ["WT", "SigE-FLAG"], "range": ["#2424b0", "#ab1f1f"]}, "legend": null}}},
            {"data": {"name": "arrows"}, "transform": [{"filter": "datum.locus === 'sco4263'"}], "mark": {"type": "rule", "color": "#111", "strokeWidth": 1.3}, "encoding": {"x": {"field": "from", "type": "quantitative", "scale": {"domain": [4.67368, 4.67769], "nice": false, "zero": false}, "axis": {"values": [4.674, 4.675, 4.676, 4.677], "format": ".3f", "title": "Genomic Position (Mbp)", "titlePadding": 12}}, "x2": {"field": "to"}, "y": {"field": "level", "type": "quantitative", "scale": {"domain": [-0.07, 0.163], "nice": false, "zero": false}, "axis": {"values": [-0.05, 0, 0.05, 0.1, 0.15], "format": ".2f", "title": null}}}},
            {"data": {"name": "arrows"}, "transform": [{"filter": "datum.locus === 'sco4263'"}], "mark": {"type": "point", "filled": false, "stroke": "#111", "strokeWidth": 1.3, "size": 45, "opacity": 1}, "encoding": {"x": {"field": "to", "type": "quantitative", "scale": {"domain": [4.67368, 4.67769], "nice": false, "zero": false}, "axis": {"values": [4.674, 4.675, 4.676, 4.677], "format": ".3f", "title": "Genomic Position (Mbp)", "titlePadding": 12}}, "y": {"field": "level", "type": "quantitative", "scale": {"domain": [-0.07, 0.163], "nice": false, "zero": false}, "axis": {"values": [-0.05, 0, 0.05, 0.1, 0.15], "format": ".2f", "title": null}}, "shape": {"field": "dir", "type": "nominal", "legend": null}}}
          ]
        },
        {
          "width": 116, "height": 117, "title": "sco7233",
          "layer": [
            {"data": {"name": "zero"}, "mark": {"type": "rule", "color": "#111", "strokeWidth": 1.2}, "encoding": {"y": {"field": "level", "type": "quantitative", "scale": {"domain": [-0.07, 0.163], "nice": false, "zero": false}, "axis": {"values": [-0.05, 0, 0.05, 0.1, 0.15], "format": ".2f", "title": null}}}},
            {"data": {"name": "genes"}, "transform": [{"filter": "datum.locus === 'sco7233'"}], "mark": {"type": "rect", "clip": true, "stroke": "#6b6b3a", "strokeWidth": 0.5}, "encoding": {"x": {"field": "from", "type": "quantitative", "scale": {"domain": [8.03674, 8.04076], "nice": false, "zero": false}, "axis": {"values": [8.037, 8.038, 8.039, 8.040], "format": ".3f", "title": null}}, "x2": {"field": "to"}, "y": {"datum": -0.0342, "scale": {"domain": [-0.07, 0.163], "nice": false, "zero": false}, "axis": {"values": [-0.05, 0, 0.05, 0.1, 0.15], "format": ".2f", "title": null}}, "y2": {"datum": -0.0418}, "fill": {"field": "dir", "type": "nominal", "scale": {"domain": ["left", "right"], "range": ["#0a0ad2", "#f7f71e"]}, "legend": null}}},
            {"data": {"name": "genes"}, "transform": [{"filter": "datum.locus === 'sco7233'"}], "mark": {"type": "point", "filled": true, "size": 42, "stroke": "#6b6b3a", "strokeWidth": 0.5, "opacity": 1, "clip": true}, "encoding": {"x": {"field": "tip", "type": "quantitative", "scale": {"domain": [8.03674, 8.04076], "nice": false, "zero": false}, "axis": {"values": [8.037, 8.038, 8.039, 8.040], "format": ".3f", "title": null}}, "y": {"datum": -0.038, "scale": {"domain": [-0.07, 0.163], "nice": false, "zero": false}, "axis": {"values": [-0.05, 0, 0.05, 0.1, 0.15], "format": ".2f", "title": null}}, "shape": {"field": "dir", "type": "nominal", "scale": {"domain": ["left", "right"], "range": ["M1.6,-1L0,0L1.6,1", "M-1.6,-1L0,0L-1.6,1"]}, "legend": null}, "fill": {"field": "dir", "type": "nominal", "legend": null}}},
            {"data": {"name": "chip"}, "transform": [{"filter": "datum.locus === 'sco7233'"}], "mark": {"type": "line", "strokeWidth": 1.1, "clip": true}, "encoding": {
              "x": {"field": "pos", "type": "quantitative", "scale": {"domain": [8.03674, 8.04076], "nice": false, "zero": false}, "axis": {"values": [8.037, 8.038, 8.039, 8.040], "format": ".3f", "title": null}},
              "y": {"field": "enr", "type": "quantitative", "scale": {"domain": [-0.07, 0.163], "nice": false, "zero": false}, "axis": {"values": [-0.05, 0, 0.05, 0.1, 0.15], "format": ".2f", "title": null}},
              "stroke": {"field": "series", "type": "nominal", "scale": {"domain": ["WT", "SigE-FLAG"], "range": ["#2424b0", "#ab1f1f"]}, "legend": null}}},
            {"data": {"name": "arrows"}, "transform": [{"filter": "datum.locus === 'sco7233'"}], "mark": {"type": "rule", "color": "#111", "strokeWidth": 1.3}, "encoding": {"x": {"field": "from", "type": "quantitative", "scale": {"domain": [8.03674, 8.04076], "nice": false, "zero": false}, "axis": {"values": [8.037, 8.038, 8.039, 8.040], "format": ".3f", "title": null}}, "x2": {"field": "to"}, "y": {"field": "level", "type": "quantitative", "scale": {"domain": [-0.07, 0.163], "nice": false, "zero": false}, "axis": {"values": [-0.05, 0, 0.05, 0.1, 0.15], "format": ".2f", "title": null}}}},
            {"data": {"name": "arrows"}, "transform": [{"filter": "datum.locus === 'sco7233'"}], "mark": {"type": "point", "filled": false, "stroke": "#111", "strokeWidth": 1.3, "size": 45, "opacity": 1}, "encoding": {"x": {"field": "to", "type": "quantitative", "scale": {"domain": [8.03674, 8.04076], "nice": false, "zero": false}, "axis": {"values": [8.037, 8.038, 8.039, 8.040], "format": ".3f", "title": null}}, "y": {"field": "level", "type": "quantitative", "scale": {"domain": [-0.07, 0.163], "nice": false, "zero": false}, "axis": {"values": [-0.05, 0, 0.05, 0.1, 0.15], "format": ".2f", "title": null}}, "shape": {"field": "dir", "type": "nominal", "legend": null}}}
          ]
        },
        {
          "width": 116, "height": 117, "title": "sco7657",
          "layer": [
            {"data": {"name": "zero"}, "mark": {"type": "rule", "color": "#111", "strokeWidth": 1.2}, "encoding": {"y": {"field": "level", "type": "quantitative", "scale": {"domain": [-0.07, 0.163], "nice": false, "zero": false}, "axis": {"values": [-0.05, 0, 0.05, 0.1, 0.15], "format": ".2f", "title": null}}}},
            {"data": {"name": "genes"}, "transform": [{"filter": "datum.locus === 'sco7657'"}], "mark": {"type": "rect", "clip": true, "stroke": "#6b6b3a", "strokeWidth": 0.5}, "encoding": {"x": {"field": "from", "type": "quantitative", "scale": {"domain": [8.48169, 8.48599], "nice": false, "zero": false}, "axis": {"values": [8.482, 8.483, 8.484, 8.485], "format": ".3f", "title": null}}, "x2": {"field": "to"}, "y": {"datum": -0.0342, "scale": {"domain": [-0.07, 0.163], "nice": false, "zero": false}, "axis": {"values": [-0.05, 0, 0.05, 0.1, 0.15], "format": ".2f", "title": null}}, "y2": {"datum": -0.0418}, "fill": {"field": "dir", "type": "nominal", "scale": {"domain": ["left", "right"], "range": ["#0a0ad2", "#f7f71e"]}, "legend": null}}},
            {"data": {"name": "genes"}, "transform": [{"filter": "datum.locus === 'sco7657'"}], "mark": {"type": "point", "filled": true, "size": 42, "stroke": "#6b6b3a", "strokeWidth": 0.5, "opacity": 1, "clip": true}, "encoding": {"x": {"field": "tip", "type": "quantitative", "scale": {"domain": [8.48169, 8.48599], "nice": false, "zero": false}, "axis": {"values": [8.482, 8.483, 8.484, 8.485], "format": ".3f", "title": null}}, "y": {"datum": -0.038, "scale": {"domain": [-0.07, 0.163], "nice": false, "zero": false}, "axis": {"values": [-0.05, 0, 0.05, 0.1, 0.15], "format": ".2f", "title": null}}, "shape": {"field": "dir", "type": "nominal", "scale": {"domain": ["left", "right"], "range": ["M1.6,-1L0,0L1.6,1", "M-1.6,-1L0,0L-1.6,1"]}, "legend": null}, "fill": {"field": "dir", "type": "nominal", "legend": null}}},
            {"data": {"name": "chip"}, "transform": [{"filter": "datum.locus === 'sco7657'"}], "mark": {"type": "line", "strokeWidth": 1.1, "clip": true}, "encoding": {
              "x": {"field": "pos", "type": "quantitative", "scale": {"domain": [8.48169, 8.48599], "nice": false, "zero": false}, "axis": {"values": [8.482, 8.483, 8.484, 8.485], "format": ".3f", "title": null}},
              "y": {"field": "enr", "type": "quantitative", "scale": {"domain": [-0.07, 0.163], "nice": false, "zero": false}, "axis": {"values": [-0.05, 0, 0.05, 0.1, 0.15], "format": ".2f", "title": null}},
              "stroke": {"field": "series", "type": "nominal", "scale": {"domain": ["WT", "SigE-FLAG"], "range": ["#2424b0", "#ab1f1f"]}, "legend": null}}},
            {"data": {"name": "arrows"}, "transform": [{"filter": "datum.locus === 'sco7657'"}], "mark": {"type": "rule", "color": "#111", "strokeWidth": 1.3}, "encoding": {"x": {"field": "from", "type": "quantitative", "scale": {"domain": [8.48169, 8.48599], "nice": false, "zero": false}, "axis": {"values": [8.482, 8.483, 8.484, 8.485], "format": ".3f", "title": null}}, "x2": {"field": "to"}, "y": {"field": "level", "type": "quantitative", "scale": {"domain": [-0.07, 0.163], "nice": false, "zero": false}, "axis": {"values": [-0.05, 0, 0.05, 0.1, 0.15], "format": ".2f", "title": null}}}},
            {"data": {"name": "arrows"}, "transform": [{"filter": "datum.locus === 'sco7657'"}], "mark": {"type": "point", "filled": false, "stroke": "#111", "strokeWidth": 1.3, "size": 45, "opacity": 1}, "encoding": {"x": {"field": "to", "type": "quantitative", "scale": {"domain": [8.48169, 8.48599], "nice": false, "zero": false}, "axis": {"values": [8.482, 8.483, 8.484, 8.485], "format": ".3f", "title": null}}, "y": {"field": "level", "type": "quantitative", "scale": {"domain": [-0.07, 0.163], "nice": false, "zero": false}, "axis": {"values": [-0.05, 0, 0.05, 0.1, 0.15], "format": ".2f", "title": null}}, "shape": {"field": "dir", "type": "nominal", "legend": null}}}
          ]
        }
      ]
    },
    {
      "spacing": 3,
      "resolve": {"scale": {"color": "independent", "shape": "independent", "stroke": "independent", "fill": "independent"}},
      "hconcat": [
        {
          "width": 116, "height": 116, "title": "sco3396",
          "data": {"name": "expr"},
          "transform": [{"filter": "datum.gene === 'sco3396'"}],
          "encoding": {
            "x": {"field": "time", "type": "ordinal", "scale": {"type": "point", "domain": ["0m", "30m", "60m", "90m"], "padding": 0.12}, "axis": {"title": null}},
            "y": {"field": "value", "type": "quantitative", "scale": {"domain": [5.55, 8.66], "nice": false, "zero": false}, "axis": {"values": [6.0, 6.8333, 7.6667, 8.5], "format": ".1f", "title": "Expression Value (log₂)"}}
          },
          "layer": [
            {"mark": {"type": "line", "strokeWidth": 1.2}, "encoding": {"stroke": {"field": "strain", "type": "nominal", "scale": {"domain": ["WT", "ΔsigE"], "range": ["#2424b0", "#a81c1c"]}, "legend": null}}},
            {"mark": {"type": "point", "filled": true, "opacity": 1, "size": 22}, "encoding": {"color": {"field": "strain", "type": "nominal", "scale": {"domain": ["WT", "ΔsigE"], "range": ["#10107a", "#b01414"]}, "legend": null}, "shape": {"field": "strain", "type": "nominal", "scale": {"domain": ["WT", "ΔsigE"], "range": ["square", "triangle-up"]}, "legend": null}}}
          ]
        },
        {
          "width": 118, "height": 116, "title": "mprF",
          "data": {"name": "expr"},
          "transform": [{"filter": "datum.gene === 'mprF'"}],
          "encoding": {
            "x": {"field": "time", "type": "ordinal", "scale": {"type": "point", "domain": ["0m", "30m", "60m", "90m"], "padding": 0.12}, "axis": {"title": null}},
            "y": {"field": "value", "type": "quantitative", "scale": {"domain": [5.54, 11.86], "nice": false, "zero": false}, "axis": {"values": [6.0, 7.6667, 9.3333, 11.0], "format": ".1f", "title": null}}
          },
          "layer": [
            {"mark": {"type": "line", "strokeWidth": 1.2}, "encoding": {"stroke": {"field": "strain", "type": "nominal", "scale": {"domain": ["WT", "ΔsigE"], "range": ["#2424b0", "#a81c1c"]}, "legend": null}}},
            {"mark": {"type": "point", "filled": true, "opacity": 1, "size": 22}, "encoding": {"color": {"field": "strain", "type": "nominal", "scale": {"domain": ["WT", "ΔsigE"], "range": ["#10107a", "#b01414"]}, "legend": null}, "shape": {"field": "strain", "type": "nominal", "scale": {"domain": ["WT", "ΔsigE"], "range": ["square", "triangle-up"]}, "legend": null}}}
          ]
        },
        {
          "width": 120, "height": 116, "title": "sco4263",
          "layer": [
            {"data": {"name": "expr"}, "transform": [{"filter": "datum.gene === 'sco4263'"}], "mark": {"type": "point", "shape": "square", "filled": true, "size": 0, "opacity": 1}, "encoding": {
              "x": {"field": "time", "type": "ordinal", "scale": {"type": "point", "domain": ["0m", "30m", "60m", "90m"], "padding": 0.12}, "axis": {"title": "Time Point (min)", "titlePadding": 12}},
              "y": {"field": "value", "type": "quantitative", "scale": {"domain": [6.74, 9.94], "nice": false, "zero": false}, "axis": {"values": [7.0, 7.8333, 8.6667, 9.5], "format": ".1f", "title": null}},
              "color": {"field": "strain", "type": "nominal", "scale": {"domain": ["WT", "ΔsigE"], "range": ["#1c1ca2", "#b51010"]}, "legend": {"orient": "none", "legendX": -1, "legendY": 169, "direction": "horizontal", "columns": 2, "title": null, "symbolType": "square", "symbolSize": 256, "symbolStrokeColor": "#333", "symbolStrokeWidth": 1, "labelFont": "Lato", "labelFontSize": 13, "labelColor": "#111", "labelOffset": 6, "columnPadding": 7, "padding": 0, "encoding": {"symbols": {"shape": {"value": {"expr": "datum.value === 'WT' ? 'square' : 'triangle-up'"}}}}}}}},
            {"data": {"name": "expr"}, "transform": [{"filter": "datum.gene === 'sco4263'"}], "mark": {"type": "line", "strokeWidth": 1.2}, "encoding": {
              "x": {"field": "time", "type": "ordinal", "scale": {"type": "point", "domain": ["0m", "30m", "60m", "90m"], "padding": 0.12}, "axis": {"title": "Time Point (min)", "titlePadding": 12}},
              "y": {"field": "value", "type": "quantitative", "scale": {"domain": [6.74, 9.94], "nice": false, "zero": false}, "axis": {"values": [7.0, 7.8333, 8.6667, 9.5], "format": ".1f", "title": null}},
              "stroke": {"field": "strain", "type": "nominal", "scale": {"domain": ["WT", "ΔsigE"], "range": ["#2424b0", "#a81c1c"]}, "legend": null}}},
            {"data": {"name": "expr"}, "transform": [{"filter": "datum.gene === 'sco4263'"}], "mark": {"type": "point", "filled": true, "opacity": 1, "size": 22}, "encoding": {
              "x": {"field": "time", "type": "ordinal", "scale": {"type": "point", "domain": ["0m", "30m", "60m", "90m"], "padding": 0.12}, "axis": {"title": "Time Point (min)", "titlePadding": 12}},
              "y": {"field": "value", "type": "quantitative", "scale": {"domain": [6.74, 9.94], "nice": false, "zero": false}, "axis": {"values": [7.0, 7.8333, 8.6667, 9.5], "format": ".1f", "title": null}},
              "fill": {"field": "strain", "type": "nominal", "scale": {"domain": ["WT", "ΔsigE"], "range": ["#10107a", "#b01414"]}, "legend": null},
              "shape": {"field": "strain", "type": "nominal", "scale": {"domain": ["WT", "ΔsigE"], "range": ["square", "triangle-up"]}, "legend": null}}}
          ]
        },
        {
          "width": 116, "height": 116, "title": "sco7233",
          "data": {"name": "expr"},
          "transform": [{"filter": "datum.gene === 'sco7233'"}],
          "encoding": {
            "x": {"field": "time", "type": "ordinal", "scale": {"type": "point", "domain": ["0m", "30m", "60m", "90m"], "padding": 0.12}, "axis": {"title": null}},
            "y": {"field": "value", "type": "quantitative", "scale": {"domain": [6.85, 9.34], "nice": false, "zero": false}, "axis": {"values": [7.0, 7.6667, 8.3333, 9.0], "format": ".1f", "title": null}}
          },
          "layer": [
            {"mark": {"type": "line", "strokeWidth": 1.2}, "encoding": {"stroke": {"field": "strain", "type": "nominal", "scale": {"domain": ["WT", "ΔsigE"], "range": ["#2424b0", "#a81c1c"]}, "legend": null}}},
            {"mark": {"type": "point", "filled": true, "opacity": 1, "size": 22}, "encoding": {"color": {"field": "strain", "type": "nominal", "scale": {"domain": ["WT", "ΔsigE"], "range": ["#10107a", "#b01414"]}, "legend": null}, "shape": {"field": "strain", "type": "nominal", "scale": {"domain": ["WT", "ΔsigE"], "range": ["square", "triangle-up"]}, "legend": null}}}
          ]
        },
        {
          "width": 116, "height": 116, "title": "sco7657",
          "data": {"name": "expr"},
          "transform": [{"filter": "datum.gene === 'sco7657'"}],
          "encoding": {
            "x": {"field": "time", "type": "ordinal", "scale": {"type": "point", "domain": ["0m", "30m", "60m", "90m"], "padding": 0.12}, "axis": {"title": null}},
            "y": {"field": "value", "type": "quantitative", "scale": {"domain": [5.86, 13.7], "nice": false, "zero": false}, "axis": {"values": [6, 8, 10, 12], "format": ".1f", "title": null}}
          },
          "layer": [
            {"mark": {"type": "line", "strokeWidth": 1.2}, "encoding": {"stroke": {"field": "strain", "type": "nominal", "scale": {"domain": ["WT", "ΔsigE"], "range": ["#2424b0", "#a81c1c"]}, "legend": null}}},
            {"mark": {"type": "point", "filled": true, "opacity": 1, "size": 22}, "encoding": {"color": {"field": "strain", "type": "nominal", "scale": {"domain": ["WT", "ΔsigE"], "range": ["#10107a", "#b01414"]}, "legend": null}, "shape": {"field": "strain", "type": "nominal", "scale": {"domain": ["WT", "ΔsigE"], "range": ["square", "triangle-up"]}, "legend": null}}}
          ]
        }
      ]
    }
  ],
  "config": {
    "view": {"stroke": "#222", "strokeWidth": 1.1},
    "axis": {"domain": false, "grid": false, "labelOverlap": false, "labelFont": "Liberation Sans", "labelFontSize": 7, "labelColor": "#555", "tickColor": "#555", "tickSize": 3, "labelPadding": 2, "titleFont": "Lato", "titleFontWeight": "normal", "titleFontSize": 12, "titleColor": "#333"},
    "axisY": {"labelAngle": -90, "labelAlign": "center", "labelBaseline": "bottom", "titlePadding": 6},
    "axisX": {"labelAngle": 0, "titleFontSize": 11.5},
    "title": {"font": "Lato", "fontSize": 12, "fontStyle": "italic", "fontWeight": "bold", "color": "#111", "offset": 6}
  }
}
